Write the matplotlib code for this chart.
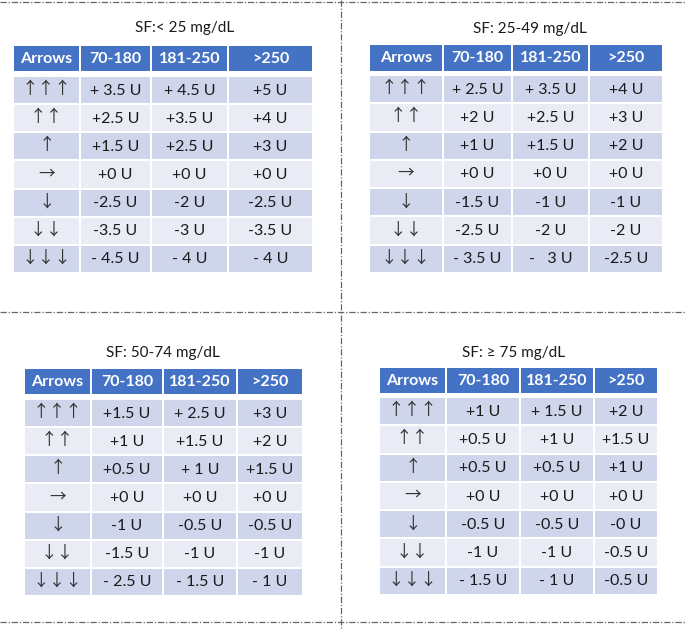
import matplotlib
matplotlib.use("Agg")
import matplotlib.pyplot as plt
from matplotlib.patches import Rectangle

# ---------------- data ----------------
titles = ["SF:< 25 mg/dL", "SF: 25-49 mg/dL", "SF: 50-74 mg/dL", "SF: \u2265 75 mg/dL"]
columns = ["Arrows", "70-180", "181-250", ">250"]
arrows = ["\u2191\u2191\u2191", "\u2191\u2191", "\u2191", "\u2192", "\u2193", "\u2193\u2193", "\u2193\u2193\u2193"]

t1_70_180 = ["+ 3.5 U", "+2.5 U", "+1.5 U", "+0 U", "-2.5 U", "-3.5 U", "- 4.5 U"]
t1_181_250 = ["+ 4.5 U", "+3.5 U", "+2.5 U", "+0 U", "-2 U", "-3 U", "- 4 U"]
t1_gt250 = ["+5 U", "+4 U", "+3 U", "+0 U", "-2.5 U", "-3.5 U", "- 4 U"]

t2_70_180 = ["+ 2.5 U", "+2 U", "+1 U", "+0 U", "-1.5 U", "-2.5 U", "- 3.5 U"]
t2_181_250 = ["+ 3.5 U", "+2.5 U", "+1.5 U", "+0 U", "-1 U", "-2 U", "-   3 U"]
t2_gt250 = ["+4 U", "+3 U", "+2 U", "+0 U", "-1 U", "-2 U", "-2.5 U"]

t3_70_180 = ["+1.5 U", "+1 U", "+0.5 U", "+0 U", "-1 U", "-1.5 U", "- 2.5 U"]
t3_181_250 = ["+ 2.5 U", "+1.5 U", "+ 1 U", "+0 U", "-0.5 U", "-1 U", "- 1.5 U"]
t3_gt250 = ["+3 U", "+2 U", "+1.5 U", "+0 U", "-0.5 U", "-1 U", "- 1 U"]

t4_70_180 = ["+1 U", "+0.5 U", "+0.5 U", "+0 U", "-0.5 U", "-1 U", "- 1.5 U"]
t4_181_250 = ["+ 1.5 U", "+1 U", "+0.5 U", "+0 U", "-0.5 U", "-1 U", "- 1 U"]
t4_gt250 = ["+2 U", "+1.5 U", "+1 U", "+0 U", "-0 U", "-0.5 U", "-0.5 U"]

tables = [
    (t1_70_180, t1_181_250, t1_gt250),
    (t2_70_180, t2_181_250, t2_gt250),
    (t3_70_180, t3_181_250, t3_gt250),
    (t4_70_180, t4_181_250, t4_gt250),
]

# ---------------- layout (pixel coordinates) ----------------
layouts = [
    dict(cols=[13, 80, 151, 228, 313], head=(46, 71), body=(76, 273), title=(185, 28)),
    dict(cols=[369, 443, 512, 589, 663], head=(45, 71), body=(75, 273), title=(530, 29)),
    dict(cols=[24, 91, 163, 237, 303], head=(369, 394), body=(399, 596), title=(163, 353)),
    dict(cols=[379, 446, 520, 594, 658], head=(368, 393), body=(397, 595), title=(514, 353)),
]

HEAD = "#4472C4"
DARK = "#CFD5EA"
LIGHT = "#E9EBF5"
TXT = "#1a1a1a"
FONT = ["Lato", "DejaVu Sans"]
ARROWFONT = ["Noto Sans", "Noto Sans CJK JP", "DejaVu Sans"]

W, H = 685, 629
fig = plt.figure(figsize=(W / 100, H / 100), dpi=100)
ax = fig.add_axes([0, 0, 1, 1])
ax.set_xlim(0, W)
ax.set_ylim(H, 0)
ax.axis("off")

gap = 1.0  # half white gap between cells

for (c1, c2, c3), lay, title in zip(tables, layouts, titles):
    cols = lay["cols"]
    h0, h1 = lay["head"]
    b0, b1 = lay["body"]
    ax.text(lay["title"][0], lay["title"][1], title, ha="center", va="center",
            fontsize=11, color=TXT, family=FONT)
    # header
    for j, name in enumerate(columns):
        x0, x1 = cols[j], cols[j + 1]
        ax.add_patch(Rectangle((x0 + gap, h0), x1 - x0 - 2 * gap, h1 - h0,
                               facecolor=HEAD, edgecolor="none"))
        ax.text((x0 + x1) / 2, (h0 + h1) / 2 + 0.5, name, ha="center", va="center",
                fontsize=11.5, fontweight="bold", color="white", family=FONT)
    # body
    rh = (b1 - b0) / len(arrows)
    for i in range(len(arrows)):
        y0 = b0 + i * rh
        fc = DARK if i % 2 == 0 else LIGHT
        vals = [arrows[i], c1[i], c2[i], c3[i]]
        for j, v in enumerate(vals):
            x0, x1 = cols[j], cols[j + 1]
            ax.add_patch(Rectangle((x0 + gap, y0 + gap), x1 - x0 - 2 * gap, rh - 2 * gap,
                                   facecolor=fc, edgecolor="none"))
            if j == 0:
                ax.text((x0 + x1) / 2, y0 + rh / 2, v, ha="center", va="center",
                        fontsize=12, color="#333333", family=ARROWFONT)
            else:
                ax.text((x0 + x1) / 2, y0 + rh / 2 + 0.5, v, ha="center", va="center",
                        fontsize=11.5, color=TXT, family=FONT)

# dash-dot dividers
ls = (0, (5, 1.5, 1, 1.5))
lc = "#666666"
ax.plot([0, W], [1.5, 1.5], color=lc, lw=0.9, linestyle=ls)
ax.plot([0, W], [311.5, 311.5], color=lc, lw=0.9, linestyle=ls)
ax.plot([0, W], [621.5, 621.5], color=lc, lw=0.9, linestyle=ls)
ax.plot([341, 341], [0, H], color=lc, lw=0.9, linestyle=ls)

fig.savefig("out.png", dpi=100)
